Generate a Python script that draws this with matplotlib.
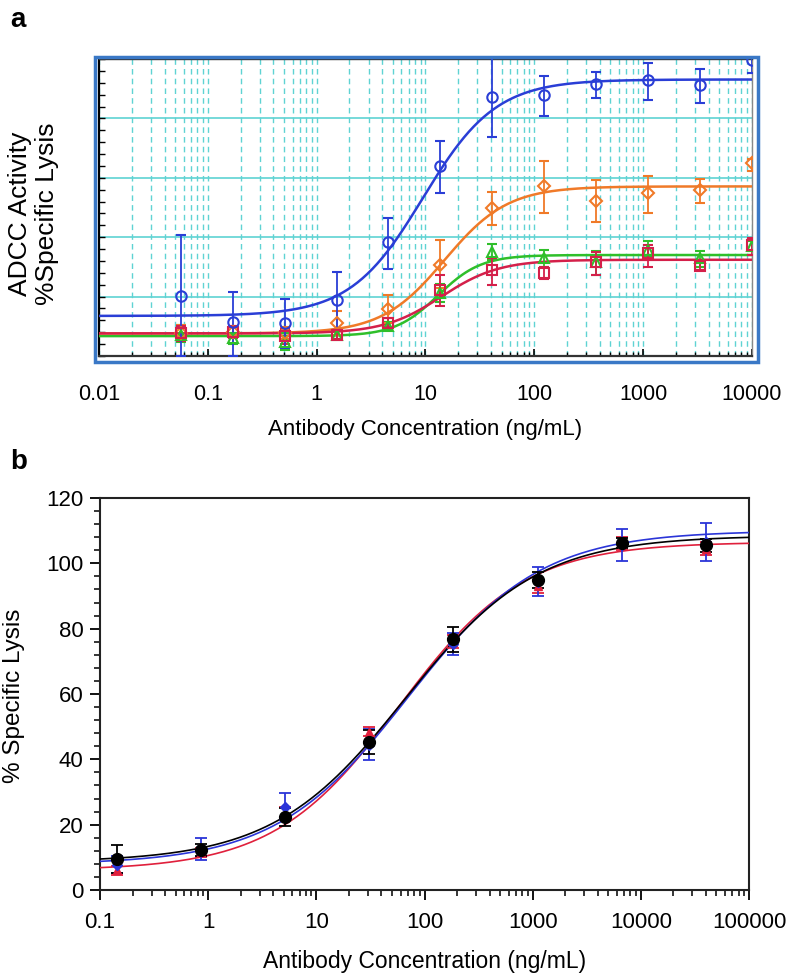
import numpy as np
import matplotlib
matplotlib.use("Agg")
import matplotlib.pyplot as plt
from matplotlib.patches import Rectangle
from matplotlib.ticker import LogLocator, MultipleLocator, NullFormatter

plt.rcParams['font.family'] = ['Liberation Sans', 'DejaVu Sans']

# ---------------- panel a data (3-fold dilutions, ng/mL) ----------------
conc_a = [0.0565, 0.169, 0.508, 1.524, 4.57, 13.7, 41.2, 123.5, 370, 1111, 3333, 10000]

blue_y = [20.3, 11.4, 11.0, 18.9, 38.3, 64.1, 87.1, 88.0, 91.7, 92.9, 91.4, 99.8]
blue_lo = [20.3, 11.4, 8.3, 10.1, 9.1, 9.2, 13.3, 7.3, 4.8, 6.6, 6.2, 4.5]
blue_hi = [20.5, 10.1, 8.1, 9.3, 8.1, 8.2, 13.3, 6.2, 4.0, 5.8, 5.1, 4.5]

orange_y = [7.9, 8.2, 7.6, 11.0, 15.7, 30.7, 50.0, 57.1, 52.3, 54.9, 55.8, 65.0]
orange_lo = [2.8, 2.0, 2.0, 3.9, 4.7, 7.8, 5.8, 8.8, 7.2, 6.6, 4.3, 2.8]
orange_hi = [2.5, 2.0, 2.0, 4.3, 4.9, 8.4, 5.2, 8.4, 7.1, 5.8, 3.8, 1.3]

green_y = [7.0, 6.0, 4.8, 7.1, 10.1, 21.1, 35.0, 32.9, 31.8, 35.7, 32.9, 36.9]
green_lo = [2.2, 1.8, 2.8, 1.5, 1.5, 3.0, 2.6, 2.8, 4.5, 2.2, 2.8, 1.7]
green_hi = [3.5, 1.8, 2.8, 1.5, 1.5, 3.0, 2.8, 2.8, 3.6, 2.9, 2.3, 1.7]

red_y = [7.6, 8.2, 6.7, 7.1, 11.2, 22.3, 29.0, 27.9, 31.5, 34.6, 30.4, 37.4]
red_lo = [2.5, 2.0, 2.5, 1.5, 1.5, 5.3, 5.1, 2.0, 4.2, 4.5, 1.4, 3.3]
red_hi = [2.5, 2.0, 2.5, 1.5, 1.5, 5.0, 4.0, 2.2, 3.5, 2.8, 2.0, 2.3]

# 4PL fit parameters: bottom, top, EC50, hill
fit_a = {
    'green': (6.7, 34.0, 13.0, 2.2),
    'orange': (7.6, 57.1, 15.0, 1.5),
    'red': (7.6, 32.4, 14.0, 1.64),
    'blue': (13.5, 93.1, 9.5, 1.3),
}

# ---------------- panel b data (6-fold dilutions, ng/mL) ----------------
conc_b = [0.143, 0.857, 5.14, 30.9, 185, 1111, 6667, 40000]

black_y = [9.5, 12.2, 22.3, 45.3, 76.8, 94.9, 106.3, 105.6]
black_err = [4.2, 1.8, 2.8, 3.8, 3.8, 2.5, 1.5, 2.0]
blueb_y = [7.8, 12.5, 25.5, 44.5, 75.3, 94.4, 105.6, 106.6]
blueb_err = [2.6, 3.3, 4.2, 4.8, 3.3, 4.4, 4.9, 5.8]
redb_y = [6.0, 11.5, 23.5, 48.5, 76.0, 93.0, 106.0, 104.5]
redb_err = [1.5, 1.5, 2.0, 1.5, 2.0, 2.0, 2.0, 2.0]

fit_b = {
    'red': (6.0, 106.5, 58.0, 0.75),
    'blue': (7.8, 110.0, 70.0, 0.71),
    'black': (8.5, 108.5, 66.0, 0.71),
}

colors = {'blue': '#2a3ed6', 'orange': '#f07a28', 'green': '#2fbf2a',
          'red': '#d4204a', 'black': 'black'}
bcolors = {'red': '#e0203c', 'blue': '#2b35d8', 'black': 'black'}


def four_pl(x, p):
    bottom, top, ec50, hill = p
    return bottom + (top - bottom) / (1 + (ec50 / x) ** hill)


fig = plt.figure(figsize=(7.86, 9.75), dpi=100)

# ================= panel a =================
ax1 = fig.add_axes([99 / 786, 1 - 356 / 975, 653 / 786, 297 / 975])
ax1.set_xscale('log')
ax1.set_xlim(0.01, 10000)
ax1.set_ylim(0, 100)

xs = np.logspace(-2, 4, 400)
series_a = [('green', green_y, green_lo, green_hi, '^'),
            ('orange', orange_y, orange_lo, orange_hi, 'D'),
            ('red', red_y, red_lo, red_hi, 's'),
            ('blue', blue_y, blue_lo, blue_hi, 'o')]
for name, y, lo, hi, mk in series_a:
    c = colors[name]
    ax1.plot(xs, four_pl(xs, fit_a[name]), color=c, lw=1.8, zorder=3)
    ax1.errorbar(conc_a, y, yerr=[lo, hi], fmt=mk, mfc='none', mec=c, ecolor=c,
                 ms=7.5 if mk != 'D' else 6.5, mew=1.5, elinewidth=1.3, capsize=3.5,
                 capthick=1.3, zorder=4)

ax1.xaxis.set_minor_locator(LogLocator(base=10, subs=np.arange(2, 10), numticks=20))
ax1.xaxis.set_minor_formatter(NullFormatter())
ax1.set_xticks([0.01, 0.1, 1, 10, 100, 1000, 10000])
ax1.set_xticklabels(['0.01', '0.1', '1', '10', '100', '1000', '10000'])
ax1.yaxis.set_major_locator(MultipleLocator(20))
ax1.yaxis.set_minor_locator(MultipleLocator(4))
ax1.set_yticklabels([])
ax1.tick_params(axis='both', which='both', direction='in', color='black')
ax1.tick_params(axis='x', which='major', length=5, width=1.2, labelsize=15.5, pad=20)
ax1.tick_params(axis='x', which='minor', length=3, width=1)
ax1.tick_params(axis='y', which='both', length=4, width=1)
ax1.grid(True, axis='x', which='both', color='#5fd3d3', lw=1, linestyle=(0, (4, 3)), zorder=0)
ax1.grid(True, axis='y', which='major', color='#5fd3d3', lw=1.2, zorder=0)
ax1.set_axisbelow(True)
ax1.spines['left'].set_linewidth(1.6)
ax1.spines['bottom'].set_linewidth(1.6)
ax1.spines['bottom'].set_color('#333333')
ax1.spines['right'].set_color('#888888')
ax1.spines['right'].set_linewidth(1)
ax1.spines['top'].set_color('#333333')
ax1.spines['top'].set_linewidth(1)

ax1.set_xlabel('Antibody Concentration (ng/mL)', fontsize=16, labelpad=10)
ax1.set_ylabel('ADCC Activity\n%Specific Lysis', fontsize=19, linespacing=1.15)
ax1.yaxis.set_label_coords(-0.062, 0.48)

# blue outer frame around panel a
fig.patches.append(Rectangle((95 / 786, 1 - 362 / 975), 663 / 786, 305 / 975,
                             transform=fig.transFigure, fill=False,
                             edgecolor='#3a78c6', lw=2.5, zorder=10))

fig.text(10 / 786, 1 - 20 / 975, 'a', fontsize=20, fontweight='bold', va='center')

# ================= panel b =================
ax2 = fig.add_axes([100 / 786, 1 - 890 / 975, 649 / 786, 392 / 975])
ax2.set_xscale('log')
ax2.set_xlim(0.1, 100000)
ax2.set_ylim(0, 120)

xb = np.logspace(-1, 5, 400)
series_b = [('red', redb_y, redb_err, '^', 6),
            ('blue', blueb_y, blueb_err, 'D', 5.5),
            ('black', black_y, black_err, 'o', 8.5)]
for name, y, err, mk, ms in series_b:
    c = bcolors[name]
    ax2.plot(xb, four_pl(xb, fit_b[name]), color=c, lw=1.2, zorder=3)
    ax2.errorbar(conc_b, y, yerr=err, fmt=mk, color=c, ms=ms, elinewidth=1.3,
                 capsize=4.5, capthick=1.3, zorder=4)

ax2.set_xticks([0.1, 1, 10, 100, 1000, 10000, 100000])
ax2.set_xticklabels(['0.1', '1', '10', '100', '1000', '10000', '100000'])
ax2.xaxis.set_minor_locator(LogLocator(base=10, subs=np.arange(2, 10), numticks=20))
ax2.xaxis.set_minor_formatter(NullFormatter())
ax2.yaxis.set_major_locator(MultipleLocator(20))
ax2.yaxis.set_minor_locator(MultipleLocator(4))
ax2.tick_params(axis='both', which='both', direction='out', top=False, right=False)
ax2.tick_params(axis='both', which='major', length=7, width=1.3, labelsize=16)
ax2.tick_params(axis='both', which='minor', length=4, width=1.1)
ax2.tick_params(axis='x', which='major', pad=9)
ax2.tick_params(axis='y', which='major', pad=5)
for s in ax2.spines.values():
    s.set_linewidth(1.5)
    s.set_color('#222222')

ax2.set_xlabel('Antibody Concentration (ng/mL)', fontsize=16.5, labelpad=12)
ax2.set_ylabel('% Specific Lysis', fontsize=17.5)
ax2.yaxis.set_label_coords(-0.115, 0.495)

fig.text(10 / 786, 1 - 462 / 975, 'b', fontsize=20, fontweight='bold', va='center')

fig.savefig('out.png', dpi=100)
